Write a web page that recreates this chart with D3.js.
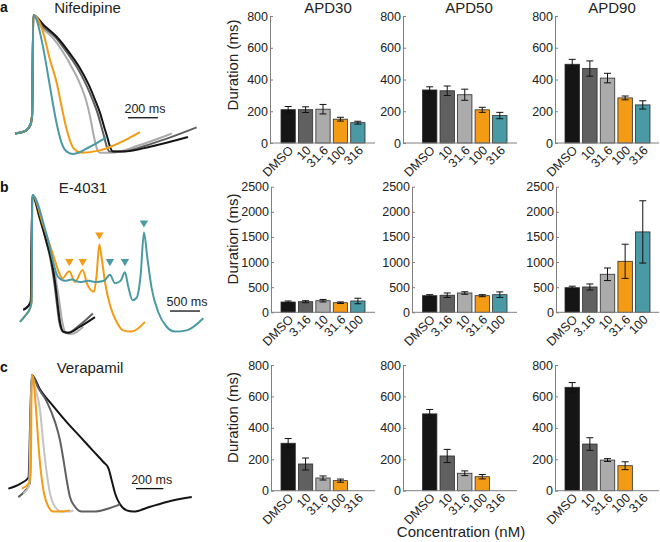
<!DOCTYPE html>
<html>
<head>
<meta charset="utf-8">
<script src="https://cdn.jsdelivr.net/npm/d3@7"></script>
<style>
    body { margin: 0; background: #fff; }
    svg { font-family: "Liberation Sans", Arial, sans-serif; }
</style>
</head>
<body>
<svg id="grafico" width="660" height="542"></svg>
<script>
//categorias (concentraciones, nM)
var concNif = ["DMSO", "10", "31.6", "100", "316"];
var concE4 = ["DMSO", "3.16", "10", "31.6", "100"];
var concVer = ["DMSO", "10", "31.6", "100", "316"];

//duraciones (ms) y error de cada barra
var nifAPD30 = [210, 210, 213, 150, 128];
var nifAPD30err = [20, 18, 30, 12, 9];
var nifAPD50 = [334, 329, 304, 209, 173];
var nifAPD50err = [20, 30, 35, 16, 20];
var nifAPD90 = [496, 469, 409, 284, 240];
var nifAPD90err = [31, 48, 30, 12, 26];

var e4APD30 = [205, 211, 231, 191, 225];
var e4APD30err = [20, 20, 25, 15, 55];
var e4APD50 = [331, 340, 384, 331, 351];
var e4APD50err = [20, 45, 25, 20, 55];
var e4APD90 = [490, 504, 757, 1015, 1600];
var e4APD90err = [30, 60, 125, 340, 620];

var verAPD30 = [302, 170, 81, 64, null];
var verAPD30err = [30, 38, 13, 10, null];
var verAPD50 = [489, 221, 111, 89, null];
var verAPD50err = [28, 42, 15, 14, null];
var verAPD90 = [658, 297, 195, 159, null];
var verAPD90err = [30, 40, 9, 25, null];

var ticksCorto = [0, 200, 400, 600, 800];
var ticksLargo = [0, 500, 1000, 1500, 2000, 2500];

//trazas de potencial de accion: [tiempo (ms), voltaje (mV)]
var nifPre = [[-122, -68], [-55, -66], [-20, -61], [-8, -53]];
var nifDMSO = [[0, 30], [67, 22], [156, 12], [245, -2], [311, -14], [367, -27], [411, -40], [445, -51], [471, -62], [493, -71], [511, -79], [533, -83], [600, -83], [778, -79], [1031, -71]];
var nif10 = [[0, 30], [60, 21], [145, 12], [230, -2], [295, -14], [350, -27], [395, -40], [428, -51], [453, -62], [473, -71], [490, -79], [510, -83], [580, -83], [800, -76], [1089, -63]];
var nif31 = [[0, 30], [55, 20], [130, 11], [200, -1], [260, -14], [315, -28], [355, -42], [380, -55], [400, -68], [420, -79], [445, -84], [520, -84], [700, -78], [923, -68]];
var nif100 = [[0, 30], [33, 26], [67, 15], [111, -7], [156, -26], [189, -46], [223, -65], [267, -80], [323, -84], [445, -82], [711, -67]];
var nif316 = [[0, 30], [22, 26], [56, 9], [89, -13], [123, -38], [156, -60], [189, -76], [223, -83], [267, -85], [378, -79], [489, -71]];

var e4PreA = [[-150, -65], [-70, -62], [-25, -58]];
var e4PreB = [[-206, -75], [-120, -70], [-40, -64], [-11, -58]];
var e4DMSO = [[0, 30], [128, 11], [239, -9], [322, -25], [378, -42], [417, -58], [461, -75], [517, -83], [600, -84], [794, -79], [1044, -71]];
var e4_316 = [[0, 30], [120, 11], [230, -8], [310, -25], [365, -42], [405, -58], [450, -75], [505, -83], [590, -84], [780, -78], [1010, -68]];
var e4_10 = [[0, 30], [130, 11], [250, -8], [340, -25], [400, -42], [450, -58], [500, -75], [560, -84], [650, -85], [850, -79]];
var e4_31 = [[0, 30], [183, 5], [350, -20], [461, -36], [500, -39], [617, -33], [711, -42], [839, -32], [917, -44], [1028, -50], [1072, -36], [1117, -11], [1156, -22], [1211, -42], [1294, -61], [1406, -75], [1517, -82], [1656, -83], [1878, -75]];
var e4_100 = [[0, 30], [239, -3], [433, -38], [544, -41], [656, -40], [794, -42], [933, -41], [1072, -42], [1194, -41], [1294, -36], [1378, -43], [1472, -41], [1544, -34], [1600, -46], [1672, -57], [1739, -55], [1806, -36], [1861, -1], [1917, -22], [1989, -47], [2100, -67], [2239, -79], [2378, -83], [2572, -82], [2850, -72]];
var flechas31 = [[617, -25], [839, -25], [1117, -3]];
var flechas100 = [[1294, -25], [1544, -25], [1861, 7]];

var verDMSO = [[-171, -64], [-85, -60], [-24, -55], [0, 30], [61, 18], [159, 4], [256, -9], [354, -21], [451, -33], [524, -42], [561, -47], [585, -57], [610, -68], [646, -77], [695, -82], [744, -83], [866, -79], [988, -75], [1171, -71]];
var ver10 = [[-98, -71], [-50, -66], [-15, -60], [0, 30], [49, 19], [110, 8], [171, -9], [207, -24], [232, -40], [256, -57], [280, -71], [317, -79], [366, -83], [451, -83], [573, -80], [646, -77]];
var ver31 = [[-60, -68], [-20, -62], [0, 30], [24, 20], [61, 1], [85, -27], [110, -51], [134, -68], [171, -79], [220, -83], [280, -83], [305, -82]];
var ver100 = [[-73, -64], [-24, -60], [-7, -52], [0, 30], [12, 26], [32, 1], [49, -27], [66, -49], [90, -68], [122, -79], [159, -83], [207, -83], [280, -82]];

var colores = ["#151515", "#606060", "#ababab", "#f39b14", "#4a9aa5"];
var fuente = '"Liberation Sans", Arial, sans-serif';

var contenedor = d3.select("#grafico");

//panel de trazas
function panelTrazas(cfg) {
    var escalaX = d3.scaleLinear().domain([0, cfg.msRef]).range([cfg.x0, cfg.x0 + cfg.pxRef]);
    var escalaY = d3.scaleLinear().domain([-85, 30]).range([cfg.top + 139, cfg.top]);
    var linea = d3.line().x(function (d) { return escalaX(d[0]); })
                         .y(function (d) { return escalaY(d[1]); })
                         .curve(d3.curveMonotoneX);

    cfg.trazas.forEach(function (tr) {
        contenedor.append("path")
            .attr("d", linea(tr.datos))
            .attr("stroke", tr.color)
            .attr("stroke-width", 2)
            .attr("stroke-linejoin", "round")
            .attr("fill", "none");
    });

    //flechas (triangulos hacia abajo)
    (cfg.flechas || []).forEach(function (f) {
        contenedor.selectAll(null)
            .data(f.datos)
            .enter()
            .append("path")
            .attr("d", d3.symbol(d3.symbolTriangle, 30))
            .attr("fill", f.color)
            .attr("transform", function (d) { return "translate(" + escalaX(d[0]) + "," + escalaY(d[1]) + ") rotate(180)"; });
    });

    //barra de escala
    var b = cfg.barra;
    contenedor.append("line")
        .attr("x1", escalaX(b.t)).attr("x2", escalaX(b.t + b.ms))
        .attr("y1", escalaY(b.v)).attr("y2", escalaY(b.v))
        .attr("stroke", "#111").attr("stroke-width", 1.3);
    contenedor.append("text")
        .attr("x", (escalaX(b.t) + escalaX(b.t + b.ms)) / 2 + 2)
        .attr("y", escalaY(b.v) - 5)
        .attr("text-anchor", "middle")
        .attr("font-size", "12.5px")
        .attr("fill", "#222")
        .text(b.ms + " ms");

    //titulo y letra
    contenedor.append("text")
        .attr("x", cfg.tituloX).attr("y", cfg.tituloY)
        .attr("text-anchor", "middle").attr("font-size", "15px").attr("fill", "#222")
        .text(cfg.titulo);
    contenedor.append("text")
        .attr("x", 0).attr("y", cfg.tituloY - 1)
        .attr("font-size", "14px").attr("font-weight", "bold").attr("fill", "#111")
        .text(cfg.letra);
}

//panel de barras
function panelBarras(cfg) {
    var escalaX = d3.scaleBand().domain(cfg.cats).range(cfg.rangoX).paddingInner(0.18).paddingOuter(0);
    var escalaY = d3.scaleLinear().domain([0, cfg.ticks[cfg.ticks.length - 1]]).range(cfg.rangoY);
    var g = contenedor.append("g");

    var datos = cfg.cats.map(function (c, i) {
        return { cat: c, valor: cfg.valores[i], err: cfg.errores[i], color: colores[i] };
    }).filter(function (d) { return d.valor != null; });

    //barras
    g.selectAll(".barra")
        .data(datos)
        .enter()
        .append("rect")
        .attr("x", function (d) { return escalaX(d.cat); })
        .attr("width", escalaX.bandwidth())
        .attr("y", function (d) { return escalaY(d.valor); })
        .attr("height", function (d) { return escalaY(0) - escalaY(d.valor); })
        .attr("fill", function (d) { return d.color; })
        .attr("stroke", "#2d2d2d")
        .attr("stroke-width", 0.8);

    //barras de error
    var media = escalaX.bandwidth() / 2;
    datos.forEach(function (d) {
        var cx = escalaX(d.cat) + media;
        var y1 = escalaY(d.valor + d.err), y2 = escalaY(d.valor - d.err);
        g.append("line").attr("x1", cx).attr("x2", cx).attr("y1", y1).attr("y2", y2)
            .attr("stroke", "#111").attr("stroke-width", 1);
        [y1, y2].forEach(function (yy) {
            g.append("line").attr("x1", cx - 3.5).attr("x2", cx + 3.5).attr("y1", yy).attr("y2", yy)
                .attr("stroke", "#111").attr("stroke-width", 1);
        });
    });

    //eje Y
    var ejeY = d3.axisLeft(escalaY).tickValues(cfg.ticks).tickFormat(d3.format("d"))
        .tickSizeInner(-3).tickSizeOuter(0).tickPadding(2);
    var gy = g.append("g").attr("transform", "translate(" + cfg.ejeX0 + ",0)").call(ejeY);
    gy.attr("font-size", "12.5px").attr("font-family", fuente);
    gy.selectAll("path, line").attr("stroke", "#808080");
    gy.selectAll("text").attr("fill", "#222");

    //linea del eje X
    g.append("line")
        .attr("x1", cfg.ejeX0).attr("x2", cfg.ejeX1)
        .attr("y1", escalaY(0)).attr("y2", escalaY(0))
        .attr("stroke", "#808080").attr("stroke-width", 1);

    //etiquetas del eje X giradas
    var ejeX = d3.axisBottom(escalaX).tickSize(0);
    var gx = g.append("g").attr("transform", "translate(0," + escalaY(0) + ")").call(ejeX);
    gx.select(".domain").remove();
    gx.attr("font-size", "12.5px").attr("font-family", fuente);
    gx.selectAll("text")
        .attr("x", 0).attr("y", 0).attr("dy", 0)
        .attr("transform", "translate(6,8) rotate(-45)")
        .attr("fill", "#222")
        .style("text-anchor", "end");

    if (cfg.titulo) {
        contenedor.append("text")
            .attr("x", cfg.tituloX).attr("y", 13)
            .attr("text-anchor", "middle").attr("font-size", "15px").attr("fill", "#222")
            .text(cfg.titulo);
    }
    if (cfg.etiquetaY) {
        contenedor.append("text")
            .attr("transform", "translate(238," + cfg.etiquetaY + ") rotate(-90)")
            .attr("text-anchor", "middle").attr("font-size", "15px").attr("fill", "#222")
            .text("Duration (ms)");
    }
}

// a: Nifedipine
panelTrazas({
    x0: 33.3, pxRef: 150, msRef: 1000, top: 15,
    titulo: "Nifedipine", tituloX: 87.5, tituloY: 13, letra: "a",
    barra: { t: 631, ms: 200, v: -55 },
    trazas: [
        { datos: nifPre.concat(nif31), color: colores[2] },
        { datos: nifPre.concat(nif10), color: colores[1] },
        { datos: nifPre.concat(nifDMSO), color: colores[0] },
        { datos: nifPre.concat(nif100), color: colores[3] },
        { datos: nifPre.concat(nif316), color: colores[4] }
    ]
});

// b: E-4031
panelTrazas({
    x0: 32.3, pxRef: 150, msRef: 2500, top: 195,
    titulo: "E-4031", tituloX: 83, tituloY: 193, letra: "b",
    barra: { t: 2295, ms: 500, v: -66 },
    trazas: [
        { datos: e4PreA.concat(e4_10), color: colores[2] },
        { datos: e4PreA.concat(e4_316), color: colores[1] },
        { datos: e4PreA.concat(e4DMSO), color: colores[0] },
        { datos: e4PreB.concat(e4_31), color: colores[3] },
        { datos: e4PreB.concat(e4_100), color: colores[4] }
    ],
    flechas: [
        { datos: flechas31, color: colores[3] },
        { datos: flechas100, color: colores[4] }
    ]
});

// c: Verapamil
panelTrazas({
    x0: 31.7, pxRef: 136.7, msRef: 1000, top: 375,
    titulo: "Verapamil", tituloX: 90, tituloY: 373, letra: "c",
    barra: { t: 763, ms: 200, v: -64 },
    trazas: [
        { datos: verDMSO, color: colores[0] },
        { datos: ver10, color: colores[1] },
        { datos: ver31, color: "#c4c4c4" },
        { datos: ver100, color: colores[3] }
    ]
});

//graficos de barras: columnas APD30, APD50, APD90
var rangosX = [[281, 365], [422.5, 507], [565, 650]];
var finEjes = [375, 517, 659];
var titulosX = [328, 469, 612];
var titulos = ["APD30", "APD50", "APD90"];

var filas = [
    { cats: concNif, ticks: ticksCorto, rangoY: [143, 16], ejes: [270, 403, 555], etiquetaY: 65,
      valores: [nifAPD30, nifAPD50, nifAPD90], errores: [nifAPD30err, nifAPD50err, nifAPD90err], titulos: true },
    { cats: concE4, ticks: ticksLargo, rangoY: [312.3, 186.7], ejes: [271, 412, 556], etiquetaY: 239,
      valores: [e4APD30, e4APD50, e4APD90], errores: [e4APD30err, e4APD50err, e4APD90err] },
    { cats: concVer, ticks: ticksCorto, rangoY: [490.7, 365], ejes: [271, 403, 555], etiquetaY: 417.5,
      valores: [verAPD30, verAPD50, verAPD90], errores: [verAPD30err, verAPD50err, verAPD90err] }
];

filas.forEach(function (f) {
    for (var c = 0; c < 3; c++) {
        panelBarras({
            cats: f.cats, ticks: f.ticks, rangoY: f.rangoY,
            rangoX: rangosX[c], ejeX0: f.ejes[c], ejeX1: finEjes[c],
            valores: f.valores[c], errores: f.errores[c],
            titulo: f.titulos ? titulos[c] : null, tituloX: titulosX[c],
            etiquetaY: c == 0 ? f.etiquetaY : null
        });
    }
});

//texto del eje X inferior
contenedor.append("text")
    .attr("x", 461).attr("y", 537)
    .attr("text-anchor", "middle").attr("font-size", "15px").attr("fill", "#222")
    .text("Concentration (nM)");
</script>
</body>
</html>
